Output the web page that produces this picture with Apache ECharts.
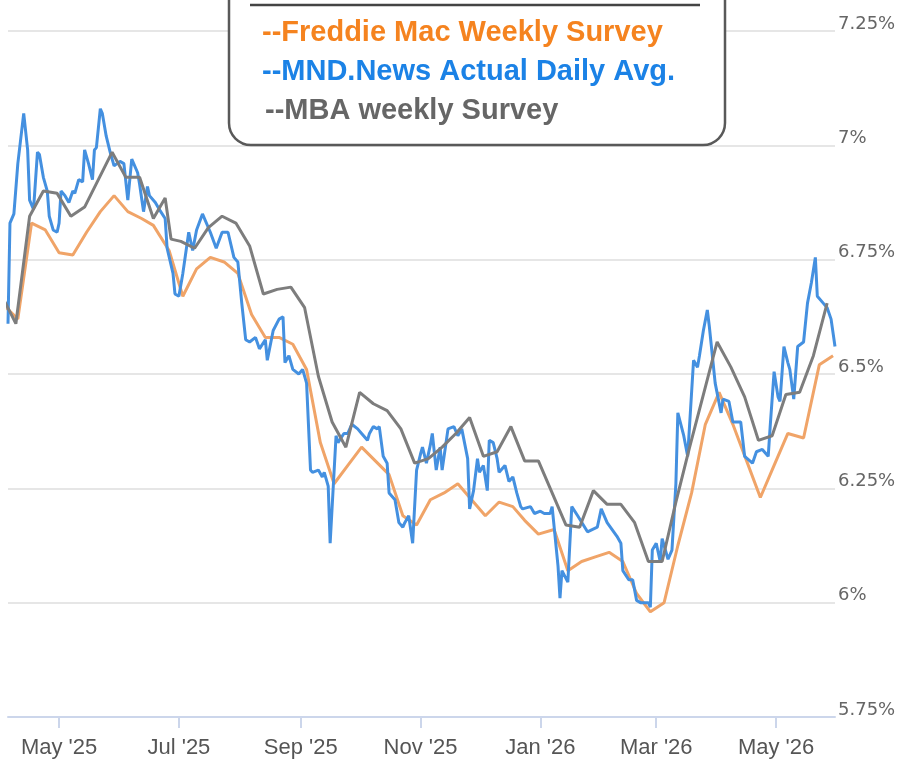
<!DOCTYPE html>
<html>
<head>
<meta charset="utf-8">
<title>Mortgage rates</title>
<script src="https://cdn.jsdelivr.net/npm/echarts@6.0.0/dist/echarts.min.js"></script>
<style>
    html, body { margin: 0; padding: 0; background: #fff; }
    #chartmain { width: 899px; height: 765px; }
</style>
</head>
<body>
<div id="chartmain"></div>
<script>
// month ticks on the x axis
var tickMonths = ['2025-05-01', '2025-07-01', '2025-09-01', '2025-11-01', '2026-01-01', '2026-03-01', '2026-05-01'];
var monthNames = ['Jan', 'Feb', 'Mar', 'Apr', 'May', 'Jun', 'Jul', 'Aug', 'Sep', 'Oct', 'Nov', 'Dec'];

// Freddie Mac weekly survey
var freddieWeekly = [
    ['2025-04-03', 6.65], ['2025-04-10', 6.62], ['2025-04-17', 6.83], ['2025-04-24', 6.815],
    ['2025-05-01', 6.765], ['2025-05-08', 6.76], ['2025-05-15', 6.81], ['2025-05-22', 6.855],
    ['2025-05-29', 6.89], ['2025-06-05', 6.855], ['2025-06-12', 6.84], ['2025-06-18', 6.825],
    ['2025-06-26', 6.77], ['2025-07-03', 6.67], ['2025-07-10', 6.73], ['2025-07-17', 6.755],
    ['2025-07-24', 6.745], ['2025-07-31', 6.72], ['2025-08-07', 6.63], ['2025-08-14', 6.58],
    ['2025-08-21', 6.58], ['2025-08-28', 6.565], ['2025-09-04', 6.51], ['2025-09-11', 6.35],
    ['2025-09-18', 6.26], ['2025-09-25', 6.30], ['2025-10-02', 6.34], ['2025-10-09', 6.31],
    ['2025-10-16', 6.28], ['2025-10-23', 6.19], ['2025-10-30', 6.17], ['2025-11-06', 6.225],
    ['2025-11-13', 6.24], ['2025-11-20', 6.26], ['2025-11-26', 6.23], ['2025-12-04', 6.19],
    ['2025-12-11', 6.22], ['2025-12-18', 6.21], ['2025-12-24', 6.18], ['2025-12-31', 6.15],
    ['2026-01-08', 6.16], ['2026-01-15', 6.07], ['2026-01-22', 6.09], ['2026-01-29', 6.10],
    ['2026-02-05', 6.11], ['2026-02-12', 6.09], ['2026-02-19', 6.02], ['2026-02-26', 5.98],
    ['2026-03-05', 6.00], ['2026-03-12', 6.125], ['2026-03-19', 6.24], ['2026-03-26', 6.39],
    ['2026-04-02', 6.46], ['2026-04-09', 6.39], ['2026-04-16', 6.31], ['2026-04-23', 6.23],
    ['2026-04-30', 6.30], ['2026-05-07', 6.37], ['2026-05-15', 6.36], ['2026-05-23', 6.52],
    ['2026-05-30', 6.54]
];

// MND daily average
var mndDaily = [
    ['2025-04-05', 6.61], ['2025-04-06', 6.83], ['2025-04-08', 6.85], ['2025-04-10', 6.96],
    ['2025-04-13', 7.07], ['2025-04-15', 6.99], ['2025-04-16', 6.88], ['2025-04-18', 6.86],
    ['2025-04-20', 6.985], ['2025-04-21', 6.98], ['2025-04-23', 6.93], ['2025-04-25', 6.90],
    ['2025-04-26', 6.845], ['2025-04-28', 6.815], ['2025-04-30', 6.81], ['2025-05-01', 6.83],
    ['2025-05-02', 6.90], ['2025-05-04', 6.89], ['2025-05-06', 6.875], ['2025-05-08', 6.90],
    ['2025-05-09', 6.895], ['2025-05-11', 6.925], ['2025-05-13', 6.92], ['2025-05-14', 6.99],
    ['2025-05-16', 6.96], ['2025-05-18', 6.925], ['2025-05-19', 6.99], ['2025-05-20', 6.995],
    ['2025-05-22', 7.08], ['2025-05-23', 7.07], ['2025-05-25', 7.02], ['2025-05-27', 6.985],
    ['2025-05-29', 6.955], ['2025-06-01', 6.965], ['2025-06-03', 6.96], ['2025-06-05', 6.88],
    ['2025-06-07', 6.97], ['2025-06-10', 6.94], ['2025-06-11', 6.915], ['2025-06-13', 6.855],
    ['2025-06-15', 6.91], ['2025-06-16', 6.89], ['2025-06-19', 6.875], ['2025-06-21', 6.86],
    ['2025-06-24', 6.84], ['2025-06-25', 6.775], ['2025-06-28', 6.72], ['2025-06-29', 6.675],
    ['2025-07-01', 6.67], ['2025-07-03', 6.72], ['2025-07-04', 6.75], ['2025-07-06', 6.81],
    ['2025-07-08', 6.77], ['2025-07-10', 6.815], ['2025-07-13', 6.85], ['2025-07-17', 6.81],
    ['2025-07-20', 6.775], ['2025-07-23', 6.81], ['2025-07-26', 6.81], ['2025-07-29', 6.755],
    ['2025-07-31', 6.745], ['2025-08-02', 6.655], ['2025-08-04', 6.575], ['2025-08-06', 6.57],
    ['2025-08-09', 6.58], ['2025-08-11', 6.555], ['2025-08-14', 6.575], ['2025-08-15', 6.53],
    ['2025-08-18', 6.595], ['2025-08-21', 6.62], ['2025-08-23', 6.625], ['2025-08-24', 6.525],
    ['2025-08-26', 6.54], ['2025-08-28', 6.51], ['2025-08-31', 6.50], ['2025-09-02', 6.51],
    ['2025-09-04', 6.48], ['2025-09-06', 6.29], ['2025-09-07', 6.285], ['2025-09-10', 6.29],
    ['2025-09-12', 6.275], ['2025-09-13', 6.285], ['2025-09-15', 6.255], ['2025-09-16', 6.13],
    ['2025-09-19', 6.365], ['2025-09-20', 6.35], ['2025-09-23', 6.37], ['2025-09-25', 6.37],
    ['2025-09-27', 6.39], ['2025-09-30', 6.38], ['2025-10-02', 6.37], ['2025-10-05', 6.355],
    ['2025-10-06', 6.37], ['2025-10-08', 6.385], ['2025-10-10', 6.38], ['2025-10-11', 6.385],
    ['2025-10-13', 6.32], ['2025-10-15', 6.305], ['2025-10-16', 6.24], ['2025-10-19', 6.225],
    ['2025-10-21', 6.175], ['2025-10-23', 6.165], ['2025-10-24', 6.175], ['2025-10-26', 6.19],
    ['2025-10-28', 6.13], ['2025-10-30', 6.29], ['2025-11-01', 6.325], ['2025-11-02', 6.34],
    ['2025-11-04', 6.305], ['2025-11-06', 6.345], ['2025-11-07', 6.37], ['2025-11-09', 6.29],
    ['2025-11-11', 6.34], ['2025-11-12', 6.29], ['2025-11-15', 6.38], ['2025-11-18', 6.385],
    ['2025-11-20', 6.365], ['2025-11-22', 6.38], ['2025-11-25', 6.315], ['2025-11-26', 6.205],
    ['2025-11-28', 6.245], ['2025-11-30', 6.315], ['2025-12-01', 6.285], ['2025-12-03', 6.30],
    ['2025-12-05', 6.245], ['2025-12-06', 6.355], ['2025-12-08', 6.35], ['2025-12-10', 6.315],
    ['2025-12-11', 6.285], ['2025-12-14', 6.30], ['2025-12-16', 6.265], ['2025-12-18', 6.275],
    ['2025-12-20', 6.24], ['2025-12-22', 6.21], ['2025-12-23', 6.205], ['2025-12-27', 6.21],
    ['2025-12-29', 6.195], ['2026-01-01', 6.20], ['2026-01-03', 6.195], ['2026-01-06', 6.195],
    ['2026-01-07', 6.21], ['2026-01-10', 6.08], ['2026-01-11', 6.01], ['2026-01-12', 6.07],
    ['2026-01-15', 6.045], ['2026-01-17', 6.21], ['2026-01-20', 6.19], ['2026-01-25', 6.155],
    ['2026-01-30', 6.165], ['2026-02-01', 6.205], ['2026-02-04', 6.175], ['2026-02-09', 6.145],
    ['2026-02-11', 6.13], ['2026-02-12', 6.07], ['2026-02-15', 6.05], ['2026-02-17', 6.05],
    ['2026-02-19', 6.005], ['2026-02-21', 6.00], ['2026-02-25', 6.00], ['2026-02-26', 5.99],
    ['2026-02-27', 6.115], ['2026-03-01', 6.13], ['2026-03-03', 6.09], ['2026-03-04', 6.14],
    ['2026-03-07', 6.095], ['2026-03-09', 6.115], ['2026-03-11', 6.26], ['2026-03-12', 6.415],
    ['2026-03-15', 6.365], ['2026-03-17', 6.32], ['2026-03-20', 6.53], ['2026-03-22', 6.515],
    ['2026-03-23', 6.54], ['2026-03-25', 6.595], ['2026-03-27', 6.64], ['2026-03-28', 6.605],
    ['2026-03-31', 6.48], ['2026-04-03', 6.415], ['2026-04-04', 6.445], ['2026-04-07', 6.44],
    ['2026-04-09', 6.395], ['2026-04-13', 6.395], ['2026-04-15', 6.32], ['2026-04-19', 6.305],
    ['2026-04-21', 6.33], ['2026-04-24', 6.335], ['2026-04-27', 6.32], ['2026-04-28', 6.385],
    ['2026-04-30', 6.505], ['2026-05-02', 6.45], ['2026-05-03', 6.44], ['2026-05-05', 6.56],
    ['2026-05-07', 6.525], ['2026-05-08', 6.51], ['2026-05-10', 6.445], ['2026-05-12', 6.56],
    ['2026-05-15', 6.57], ['2026-05-17', 6.655], ['2026-05-19', 6.70], ['2026-05-21', 6.755],
    ['2026-05-22', 6.67], ['2026-05-25', 6.655], ['2026-05-27', 6.645], ['2026-05-29', 6.62],
    ['2026-05-31', 6.56]
];

// MBA weekly survey
var mbaWeekly = [
    ['2025-04-02', 6.67], ['2025-04-09', 6.61], ['2025-04-16', 6.845], ['2025-04-23', 6.90],
    ['2025-04-30', 6.895], ['2025-05-07', 6.845], ['2025-05-14', 6.865], ['2025-05-21', 6.925],
    ['2025-05-28', 6.985], ['2025-06-04', 6.93], ['2025-06-11', 6.93], ['2025-06-18', 6.84],
    ['2025-06-24', 6.885], ['2025-06-27', 6.795], ['2025-07-02', 6.79], ['2025-07-09', 6.775],
    ['2025-07-16', 6.82], ['2025-07-23', 6.845], ['2025-07-30', 6.83], ['2025-08-06', 6.78],
    ['2025-08-13', 6.675], ['2025-08-20', 6.685], ['2025-08-27', 6.69], ['2025-09-03', 6.645],
    ['2025-09-10', 6.495], ['2025-09-17', 6.395], ['2025-09-24', 6.34], ['2025-10-01', 6.46],
    ['2025-10-08', 6.435], ['2025-10-15', 6.42], ['2025-10-22', 6.38], ['2025-10-29', 6.305],
    ['2025-11-05', 6.315], ['2025-11-12', 6.34], ['2025-11-19', 6.37], ['2025-11-26', 6.405],
    ['2025-12-03', 6.32], ['2025-12-10', 6.33], ['2025-12-17', 6.385], ['2025-12-24', 6.31],
    ['2025-12-31', 6.31], ['2026-01-07', 6.24], ['2026-01-14', 6.17], ['2026-01-21', 6.165],
    ['2026-01-28', 6.245], ['2026-02-04', 6.215], ['2026-02-11', 6.215], ['2026-02-18', 6.175],
    ['2026-02-25', 6.09], ['2026-03-04', 6.09], ['2026-03-11', 6.22], ['2026-03-18', 6.34],
    ['2026-03-25', 6.455], ['2026-04-01', 6.57], ['2026-04-08', 6.515], ['2026-04-15', 6.45],
    ['2026-04-22', 6.355], ['2026-04-29', 6.365], ['2026-05-06', 6.455], ['2026-05-13', 6.46],
    ['2026-05-20', 6.54], ['2026-05-27', 6.655]
];

function ts(s) {
    var p = s.split('-');
    return new Date(+p[0], +p[1] - 1, +p[2]).getTime();
}
function toSeries(list) {
    return list.map(function (r) { return [ts(r[0]), r[1]]; });
}

var tickValues = tickMonths.map(ts);

var option = {
    animation: false,
    grid: { left: 8, right: 64, top: 31, bottom: 48 },
    xAxis: {
        // dates are kept as timestamps on a value axis so the month ticks can be placed exactly
        type: 'value',
        min: ts('2025-04-05'),
        max: ts('2026-05-31'),
        axisLine: { show: true, lineStyle: { color: '#ccd6eb', width: 2 } },
        axisTick: {
            show: true,
            customValues: tickValues,
            length: 11,
            lineStyle: { color: '#ccd6eb', width: 2 }
        },
        axisLabel: {
            customValues: tickValues,
            formatter: function (v) {
                var d = new Date(v);
                return monthNames[d.getMonth()] + " '" + String(d.getFullYear()).slice(2);
            },
            color: '#555',
            fontSize: 22,
            fontFamily: 'Liberation Sans',
            margin: 20
        },
        splitLine: { show: false }
    },
    yAxis: {
        type: 'value',
        position: 'right',
        min: 5.75,
        max: 7.25,
        interval: 0.25,
        axisLine: { show: false },
        axisTick: { show: false },
        splitLine: { lineStyle: { color: '#e6e6e6', width: 2 } },
        axisLabel: {
            formatter: function (v) { return parseFloat(v.toFixed(2)) + '%'; },
            color: '#666',
            fontSize: 18,
            fontFamily: 'DejaVu Sans',
            margin: 3,
            verticalAlign: 'bottom',
            lineHeight: 14
        }
    },
    series: [{
        name: 'Freddie Mac Weekly Survey',
        type: 'line',
        data: toSeries(freddieWeekly),
        symbol: 'none',
        lineStyle: { color: '#f0a468', width: 3 },
        z: 2
    }, {
        name: 'MND.News Actual Daily Avg.',
        type: 'line',
        data: toSeries(mndDaily),
        symbol: 'none',
        lineStyle: { color: '#4490e0', width: 3 },
        z: 3
    }, {
        name: 'MBA weekly Survey',
        type: 'line',
        data: toSeries(mbaWeekly),
        symbol: 'none',
        lineStyle: { color: '#7d7d7d', width: 3 },
        z: 4
    }],
    graphic: [{
        type: 'rect',
        z: 100,
        shape: { x: 229, y: -30, width: 496, height: 175, r: 22 },
        style: { fill: '#fff', stroke: '#595959', lineWidth: 2.5 }
    }, {
        type: 'line',
        z: 101,
        shape: { x1: 250, y1: 5, x2: 700, y2: 5 },
        style: { stroke: '#444', lineWidth: 2.5 }
    }, {
        type: 'text',
        z: 101,
        x: 262, y: 33,
        style: { text: '--Freddie Mac Weekly Survey', fill: '#f5831f', font: 'bold 29px "Liberation Sans"', verticalAlign: 'middle' }
    }, {
        type: 'text',
        z: 101,
        x: 262, y: 72,
        style: { text: '--MND.News Actual Daily Avg.', fill: '#1b82e6', font: 'bold 29px "Liberation Sans"', verticalAlign: 'middle' }
    }, {
        type: 'text',
        z: 101,
        x: 265, y: 111,
        style: { text: '--MBA weekly Survey', fill: '#666', font: 'bold 29px "Liberation Sans"', verticalAlign: 'middle' }
    }]
};

var myChart = echarts.init(document.getElementById('chartmain'));
myChart.setOption(option);
</script>
</body>
</html>
